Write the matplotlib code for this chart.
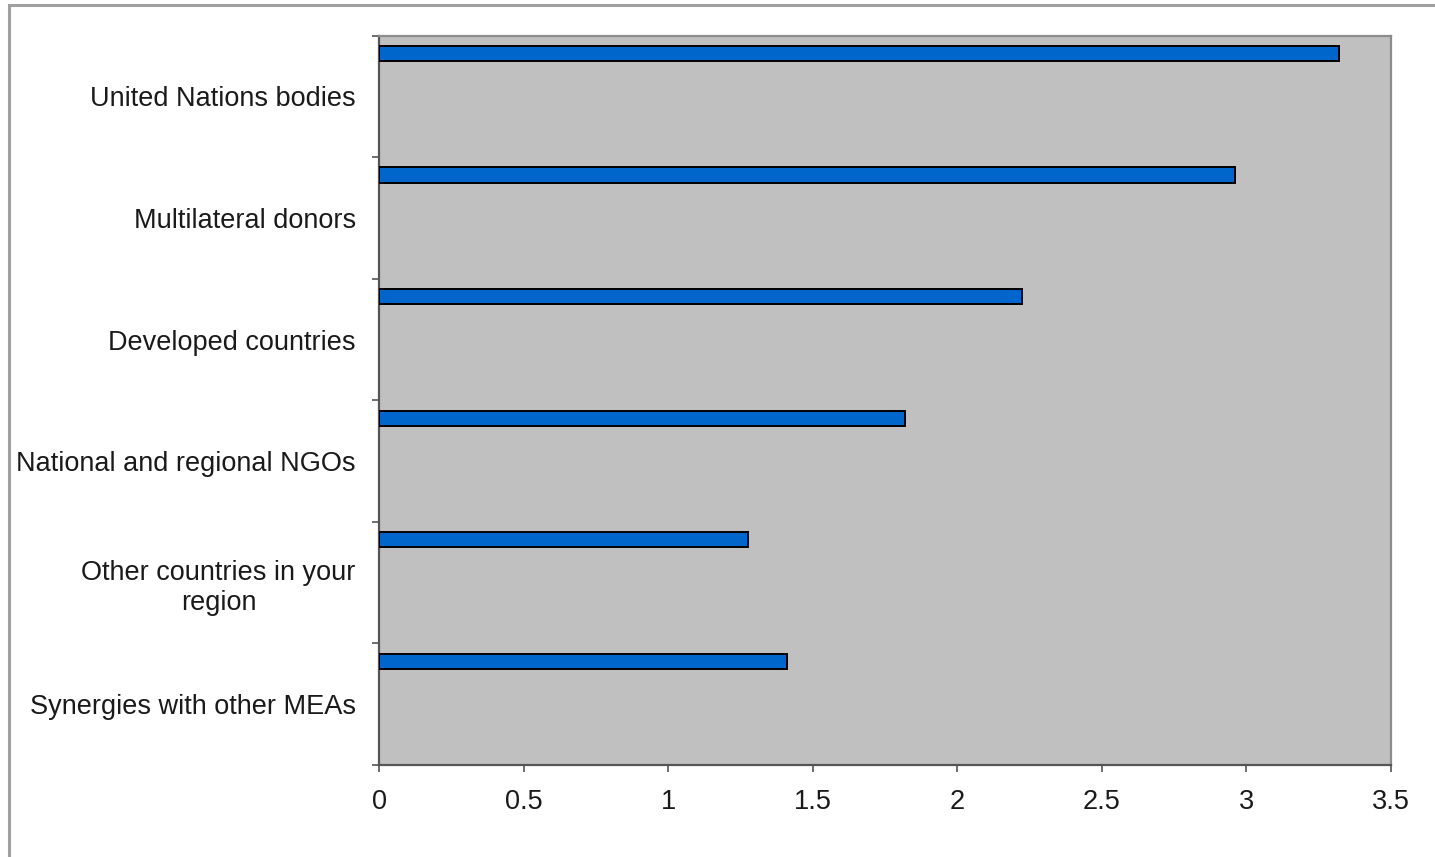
import matplotlib
matplotlib.use("Agg")
import matplotlib.pyplot as plt
from matplotlib.patches import Rectangle
import numpy as np

plt.rcParams['font.family'] = ['Liberation Sans', 'DejaVu Sans']

categories = ["United Nations bodies", "Multilateral donors", "Developed countries",
              "National and regional NGOs", "Other countries in your\nregion",
              "Synergies with other MEAs"]
values = [3.32, 2.96, 2.225, 1.82, 1.275, 1.41]
xticks = [0, 0.5, 1, 1.5, 2, 2.5, 3, 3.5]
xticklabels = ["0", "0.5", "1", "1.5", "2", "2.5", "3", "3.5"]

W, H = 1435, 857
fig = plt.figure(figsize=(W / 100, H / 100), dpi=100)
fig.patch.set_facecolor("white")

# outer chart border (only top and left visible)
fig.add_artist(Rectangle((8.5 / W, -0.1), 1.2, 1 - 4.5 / H + 0.1, transform=fig.transFigure,
                         fill=False, edgecolor="#a0a0a0", linewidth=2.2))

ax = fig.add_axes([379.3 / W, 1 - 765 / H, (1390.8 - 379.3) / W, (765 - 35.7) / H])
ax.set_facecolor("#c0c0c0")

pos = np.arange(len(categories))
ax.barh(pos - 0.5 + 0.146, values, height=0.124, color="#0066cc",
        edgecolor="black", linewidth=1.4, zorder=3)

ax.set_xlim(0, 3.5)
ax.set_ylim(len(categories) - 0.5, -0.5)

ax.set_xticks(xticks)
ax.set_xticklabels(xticklabels, fontsize=19.5, color="#1a1a1a")
ax.tick_params(axis="x", direction="out", length=5, width=1.2, color="#555555", pad=12)

ax.set_yticks(pos)
ax.set_yticklabels(categories, fontsize=19.5, color="#1a1a1a", multialignment="center",
                   linespacing=1.23)
ax.tick_params(axis="y", which="major", length=0, pad=17)
ax.set_yticks(np.arange(len(categories) + 1) - 0.5, minor=True)
ax.tick_params(axis="y", which="minor", direction="out", length=5, width=1.2, color="#555555")

for s in ["left", "bottom"]:
    ax.spines[s].set_color("#555555")
    ax.spines[s].set_linewidth(1.6)
for s in ["top", "right"]:
    ax.spines[s].set_color("#8c8c8c")
    ax.spines[s].set_linewidth(1.6)

fig.savefig("out.png", dpi=100, facecolor="white")
